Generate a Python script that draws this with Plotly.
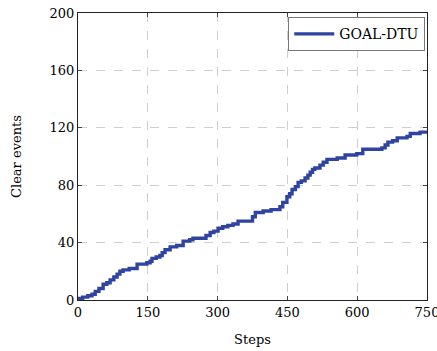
import plotly.graph_objects as go

steps = [0, 10, 21, 30, 37, 45, 54, 62, 69, 77, 84, 90, 97, 110, 122, 127, 148, 155, 159, 168,
         176, 181, 187, 198, 212, 219, 226, 240, 247, 266, 275, 284, 292, 301, 311, 322, 333, 344,
         359, 370, 375, 381, 398, 415, 428, 434, 440, 449, 455, 460, 467, 473, 480, 488, 494, 499,
         504, 509, 520, 527, 535, 557, 574, 599, 612, 653, 660, 666, 676, 686, 707, 714, 735, 750]
clear_events = [1, 2, 3, 4, 6, 8, 11, 12, 14, 16, 18, 20, 21, 22, 22, 25, 26, 27, 29, 30,
                31, 33, 35, 37, 38, 38, 41, 42, 43, 43, 45, 47, 48, 50, 51, 52, 53, 55,
                55, 55, 58, 61, 62, 63, 63, 65, 68, 72, 74, 77, 79, 82, 83, 85, 87, 89,
                91, 92, 94, 96, 98, 99, 101, 102, 105, 106, 108, 110, 111, 113, 114, 116, 117, 118]
x_ticks = [0, 150, 300, 450, 600, 750]
y_ticks = [0, 40, 80, 120, 160, 200]

FONT = "DejaVu Serif"
FS = 13
fig = go.Figure()
fig.add_trace(go.Scatter(
    x=steps, y=clear_events, mode="lines", line_shape="hv",
    line=dict(color="#2f44a0", width=3.4), name="GOAL-DTU"))

axis_common = dict(
    showline=True, linecolor="#222", linewidth=1, mirror="ticks",
    ticks="inside", ticklen=4, tickcolor="#444",
    showgrid=True, gridcolor="#cfcfcf", griddash="dash", gridwidth=1,
    zeroline=False, ticklabeloverflow="allow", automargin=False,
    tickfont=dict(family=FONT, size=FS, color="black"))

fig.update_xaxes(range=[0, 750], tickvals=x_ticks,
                 title=dict(text="Steps", font=dict(family=FONT, size=FS, color="black"), standoff=16),
                 **axis_common)
fig.update_yaxes(range=[0, 200], tickvals=y_ticks,
                 title=dict(text="Clear events", font=dict(family=FONT, size=FS, color="black"), standoff=25),
                 **axis_common)

fig.update_layout(
    width=437, height=351,
    margin=dict(l=78, r=10, t=13, b=51),
    plot_bgcolor="white", paper_bgcolor="white",
    showlegend=True,
    legend=dict(x=0.995, y=0.985, xanchor="right", yanchor="top",
                bordercolor="#777", borderwidth=1, bgcolor="white",
                font=dict(family=FONT, size=FS + 1, color="black"),
                itemwidth=40, tracegroupgap=0),
)
fig.write_html("out.html", config={"displayModeBar": False},
               post_script="document.body.style.margin='0px';")
